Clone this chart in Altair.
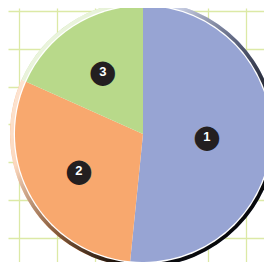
import altair as alt
import pandas as pd

labels = ["1", "2", "3"]
values = [51.6, 30.1, 18.3]
colors = ["#97A4D3", "#F8A86E", "#B8D98A"]
grid_ticks = [0, 1, 2, 3, 4, 5, 6]

df = pd.DataFrame({"label": labels, "value": values, "idx": [0, 1, 2]})
grid_df = pd.DataFrame({"gx": grid_ticks, "gy": grid_ticks})
one = pd.DataFrame({"v": [1]})

W, H = 256, 254
CX, CY = 135, 126
GRID = "#DCE9A6"

color = alt.Color("label:N", scale=alt.Scale(domain=labels, range=colors), legend=None)
theta = alt.Theta("value:Q", stack=True)
order = alt.Order("idx:Q")

grid = alt.Chart(grid_df).mark_point(opacity=0).encode(
    x=alt.X("gx:Q", scale=alt.Scale(domain=[-0.29, 6.483], nice=False, zero=False),
            axis=alt.Axis(values=grid_ticks, labels=False, ticks=False, domain=False,
                          title=None, grid=True, gridColor=GRID, gridWidth=1.3, gridOpacity=1)),
    y=alt.Y("gy:Q", scale=alt.Scale(domain=[-0.640, 6.080], nice=False, zero=False),
            axis=alt.Axis(values=grid_ticks, labels=False, ticks=False, domain=False,
                          title=None, grid=True, gridColor=GRID, gridWidth=1.3, gridOpacity=1)),
)

pos = dict(x=alt.value(CX), y=alt.value(CY))

ring_pie = alt.Chart(df).mark_arc(radius=133).encode(theta=theta, color=color, order=order, **pos)

shade = alt.Chart(one).mark_arc(
    radius=133, theta=0, theta2=6.2832,
    fill={"gradient": "linear", "x1": 0, "y1": 0, "x2": 1, "y2": 1,
          "stops": [{"offset": 0, "color": "rgba(255,255,255,0.85)"},
                    {"offset": 0.32, "color": "rgba(255,255,255,0.55)"},
                    {"offset": 0.52, "color": "rgba(0,0,0,0.45)"},
                    {"offset": 0.7, "color": "rgba(0,0,0,0.9)"},
                    {"offset": 1, "color": "rgba(0,0,0,1)"}]},
).encode(**pos)

white = alt.Chart(one).mark_arc(radius=129.3, theta=0, theta2=6.2832, fill="white").encode(**pos)

pie = alt.Chart(df).mark_arc(radius=128).encode(theta=theta, color=color, order=order, **pos)

mid_theta = alt.Theta("mid:Q")

def label_layer(radius, cond):
    base = alt.Chart(df).transform_window(
        cum="sum(value)", sort=[alt.SortField("idx")]
    ).transform_calculate(mid="datum.cum - datum.value / 2").transform_filter(cond)
    dot = base.mark_text(radius=radius, font="DejaVu Sans", fontSize=32, color="#231F20",
                         baseline="middle", align="center").encode(
        theta=mid_theta, text=alt.value("●"), **pos)
    num = base.mark_text(radius=radius, font="Liberation Sans", fontWeight="bold", fontSize=13,
                         color="white", baseline="middle", align="center").encode(
        theta=mid_theta, text="label:N", **pos)
    return dot + num

chart = alt.layer(
    grid, ring_pie, shade, white, pie,
    label_layer(64, alt.datum.idx == 0),
    label_layer(74, alt.datum.idx > 0),
).properties(width=W, height=H, autosize=alt.AutoSizeParams(type="none"), padding=0
).configure_view(stroke=None)

chart.save("out.html", embed_options={"renderer": "svg", "actions": False})
